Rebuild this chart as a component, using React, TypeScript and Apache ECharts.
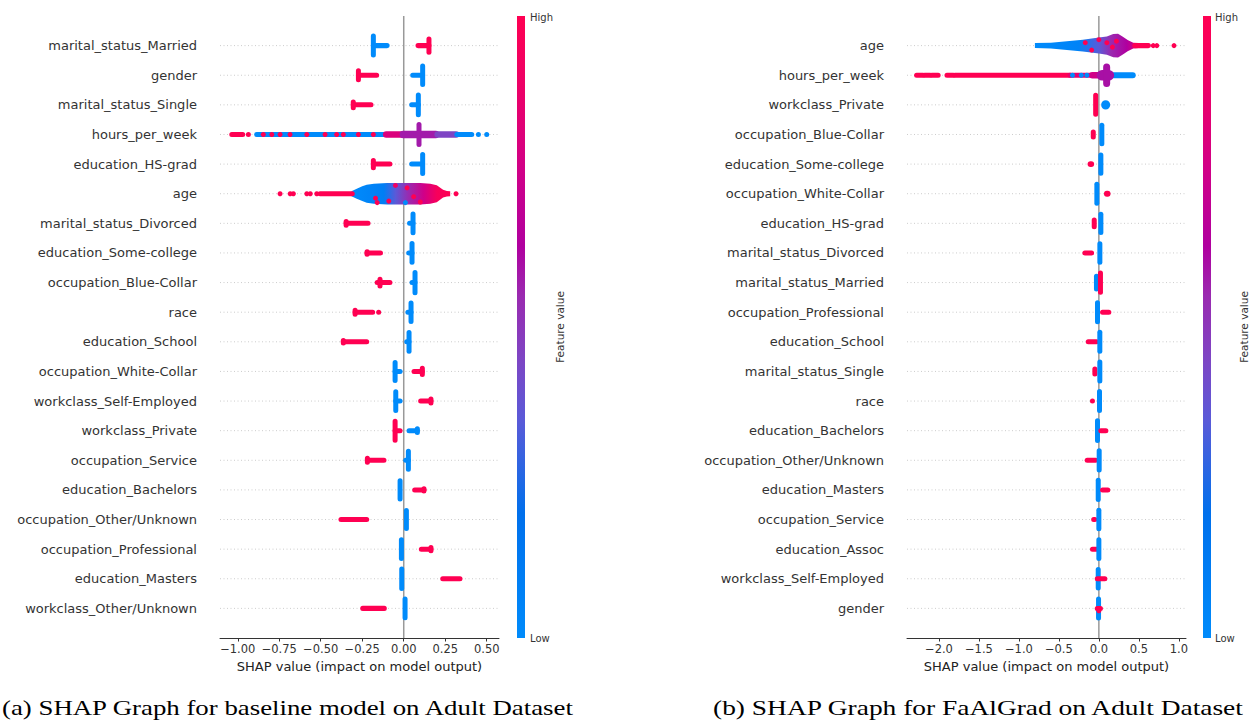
import React, { useEffect, useRef } from "react";
import * as echarts from "echarts";

// ---------- Data ----------
const leftFeatures = [
  "marital_status_Married", "gender", "marital_status_Single", "hours_per_week",
  "education_HS-grad", "age", "marital_status_Divorced", "education_Some-college",
  "occupation_Blue-Collar", "race", "education_School", "occupation_White-Collar",
  "workclass_Self-Employed", "workclass_Private", "occupation_Service", "education_Bachelors",
  "occupation_Other/Unknown", "occupation_Professional", "education_Masters", "workclass_Other/Unknown",
];
const rightFeatures = [
  "age", "hours_per_week", "workclass_Private", "occupation_Blue-Collar",
  "education_Some-college", "occupation_White-Collar", "education_HS-grad", "marital_status_Divorced",
  "marital_status_Married", "occupation_Professional", "education_School", "marital_status_Single",
  "race", "education_Bachelors", "occupation_Other/Unknown", "education_Masters",
  "occupation_Service", "education_Assoc", "workclass_Self-Employed", "gender",
];
const leftTicks = [-1, -0.75, -0.5, -0.25, 0, 0.25, 0.5];
const rightTicks = [-2, -1.5, -1, -0.5, 0, 0.5, 1];

// clusters of points: [row, shapStart, shapEnd, spread (rows), feature value 0..1]
const leftSegments = [
  [0, -0.183, -0.183, 0.81, 0], [0, -0.183, -0.1, 0.17, 0], [0, 0.086, 0.152, 0.17, 1], [0, 0.152, 0.152, 0.61, 1],
  [1, -0.273, -0.273, 0.47, 1], [1, -0.273, -0.163, 0.17, 1], [1, 0.054, 0.114, 0.17, 0], [1, 0.114, 0.114, 0.8, 0],
  [2, -0.304, -0.304, 0.37, 1], [2, -0.304, -0.197, 0.17, 1], [2, 0.048, 0.088, 0.17, 0], [2, 0.088, 0.088, 0.83, 0],
  [3, -1.036, -0.97, 0.17, 1], [3, -0.936, -0.936, 0.17, 1], [3, -0.886, -0.12, 0.15, 0],
  [3, -0.11, -0.01, 0.22, 0.8], [3, -0.01, 0.2, 0.25, 0.58], [3, 0.2, 0.32, 0.22, 0.45], [3, 0.092, 0.092, 0.84, 0.58],
  [3, 0.32, 0.41, 0.17, 0], [3, 0.45, 0.45, 0.17, 0], [3, 0.5, 0.5, 0.17, 0],
  [4, -0.183, -0.183, 0.42, 1], [4, -0.183, -0.083, 0.17, 1], [4, 0.048, 0.114, 0.17, 0], [4, 0.114, 0.114, 0.81, 0],
  [5, -0.504, -0.31, 0.17, 1],
  [6, -0.347, -0.347, 0.3, 1], [6, -0.347, -0.215, 0.17, 1], [6, 0.035, 0.056, 0.17, 0], [6, 0.056, 0.056, 0.8, 0],
  [7, -0.221, -0.221, 0.25, 1], [7, -0.221, -0.14, 0.17, 1], [7, 0.03, 0.05, 0.17, 0], [7, 0.05, 0.05, 0.8, 0],
  [8, -0.143, -0.143, 0.4, 1], [8, -0.16, -0.083, 0.17, 1], [8, 0.05, 0.068, 0.17, 0], [8, 0.068, 0.068, 0.85, 0],
  [9, -0.293, -0.293, 0.3, 1], [9, -0.293, -0.187, 0.17, 1], [9, -0.151, -0.151, 0.17, 1], [9, 0.025, 0.044, 0.17, 0], [9, 0.044, 0.044, 0.79, 0],
  [10, -0.364, -0.364, 0.25, 1], [10, -0.364, -0.223, 0.17, 1], [10, 0.018, 0.032, 0.17, 0], [10, 0.032, 0.032, 0.8, 0],
  [11, -0.052, -0.052, 0.78, 0], [11, -0.052, -0.022, 0.17, 0], [11, 0.062, 0.112, 0.17, 1], [11, 0.112, 0.112, 0.38, 1],
  [12, -0.048, -0.048, 0.8, 0], [12, -0.048, -0.022, 0.17, 0], [12, 0.102, 0.164, 0.17, 1], [12, 0.164, 0.164, 0.3, 1],
  [13, -0.052, -0.052, 0.81, 1], [13, -0.052, -0.022, 0.17, 1], [13, 0.032, 0.082, 0.17, 0], [13, 0.082, 0.082, 0.3, 0],
  [14, -0.219, -0.219, 0.3, 1], [14, -0.219, -0.119, 0.17, 1], [14, 0.012, 0.028, 0.17, 0], [14, 0.028, 0.028, 0.78, 0],
  [15, -0.022, -0.022, 0.78, 0], [15, 0.066, 0.122, 0.17, 1], [15, 0.122, 0.122, 0.25, 1],
  [16, -0.378, -0.223, 0.17, 1], [16, 0.016, 0.016, 0.78, 0],
  [17, -0.014, -0.014, 0.8, 0], [17, 0.106, 0.164, 0.17, 1], [17, 0.164, 0.164, 0.28, 1],
  [18, -0.012, -0.012, 0.82, 0], [18, 0.235, 0.339, 0.17, 1],
  [19, -0.247, -0.117, 0.17, 1], [19, 0.008, 0.008, 0.8, 0],
];
// single points: [row, shap, offset (rows), feature value]
const leftDots = [
  [3, -0.846, 0, 1], [3, -0.795, 0, 1], [3, -0.745, 0, 1], [3, -0.685, 0, 1], [3, -0.584, 0, 1],
  [3, -0.474, 0, 1], [3, -0.404, 0, 1], [3, -0.364, 0, 1], [3, -0.273, 0, 1], [3, -0.183, 0, 1],
  [5, -0.745, 0, 1], [5, -0.684, 0, 1], [5, -0.665, 0, 1], [5, -0.584, 0, 1], [5, -0.563, 0, 1], [5, -0.524, 0, 1], [5, 0.315, 0, 1],
  [5, -0.17, 0.15, 1], [5, -0.16, 0.3, 1], [5, -0.09, 0.25, 1], [5, 0.02, -0.2, 1], [5, 0.01, 0.3, 0],
  [5, 0.1, 0.28, 1], [5, -0.05, -0.28, 0.9], [5, 0.06, 0.1, 1],
];
// dense swarm outline for age: [shap, spread (rows)]
const leftAgeProfile = [
  [-0.315, 0.12], [-0.283, 0.34], [-0.25, 0.5], [-0.223, 0.61], [-0.18, 0.68], [-0.1, 0.72], [0.0, 0.73],
  [0.1, 0.72], [0.16, 0.68], [0.199, 0.57], [0.237, 0.26], [0.26, 0.18], [0.28, 0.12],
];
const leftAgeColors = [[-0.315, 0], [-0.12, 0.1], [-0.05, 0.35], [0.03, 0.55], [0.12, 0.75], [0.2, 0.95], [0.28, 1]];

const rightSegments = [
  [0, 0.45, 0.62, 0.17, 1],
  [1, -2.28, -2.2, 0.17, 1], [1, -2.18, -2.11, 0.17, 1], [1, -2.09, -2.01, 0.17, 1], [1, -1.9, -1.82, 0.17, 1],
  [1, -1.8, -0.36, 0.17, 1], [1, -0.36, -0.09, 0.17, 0.85], [1, -0.09, 0.0, 0.22, 0.75],
  [1, 0.16, 0.43, 0.2, 0], [1, 0.004, 0.16, 0.36, 0.6], [1, 0.085, 0.11, 0.79, 0.6],
  [2, -0.04, -0.04, 0.81, 1], [2, 0.06, 0.11, 0.31, 0],
  [3, -0.07, -0.07, 0.34, 1], [3, 0.037, 0.037, 0.79, 0],
  [4, -0.11, -0.09, 0.2, 1], [4, 0.025, 0.025, 0.79, 0],
  [5, -0.025, -0.025, 0.81, 0], [5, 0.095, 0.115, 0.2, 1],
  [6, -0.058, -0.058, 0.4, 1], [6, 0.025, 0.025, 0.79, 0],
  [7, -0.175, -0.091, 0.17, 1], [7, 0.0125, 0.0125, 0.79, 0],
  [8, -0.03, -0.03, 0.6, 0], [8, 0.02, 0.02, 0.82, 1],
  [9, -0.017, -0.017, 0.81, 0], [9, 0.046, 0.125, 0.17, 1],
  [10, -0.133, -0.03, 0.15, 1], [10, 0.012, 0.012, 0.81, 0],
  [11, -0.05, -0.05, 0.34, 1], [11, 0.012, 0.012, 0.81, 0],
  [12, -0.08, -0.08, 0.17, 1], [12, 0.008, 0.008, 0.81, 0],
  [13, -0.017, -0.017, 0.83, 0], [13, 0.025, 0.088, 0.17, 1],
  [14, -0.146, -0.04, 0.17, 1], [14, 0.004, 0.004, 0.82, 0],
  [15, -0.008, -0.008, 0.82, 0], [15, 0.046, 0.112, 0.17, 1],
  [16, -0.065, -0.05, 0.17, 1], [16, 0.0, 0.0, 0.8, 0],
  [17, -0.08, -0.03, 0.17, 1], [17, 0.0, 0.0, 0.8, 0],
  [18, -0.008, -0.008, 0.79, 0], [18, -0.02, 0.075, 0.15, 1],
  [19, -0.004, -0.004, 0.81, 0], [19, -0.02, 0.02, 0.1, 1],
];
const rightDots = [
  [0, 0.68, 0, 1], [0, 0.725, 0, 1], [0, 0.94, 0, 1],
  [0, -0.17, -0.1, 1], [0, -0.09, 0.15, 1], [0, 0.0, -0.2, 1], [0, 0.1, -0.1, 1], [0, 0.17, 0.05, 1], [0, 0.22, -0.15, 1],
  [1, -0.33, 0, 0], [1, -0.22, 0, 0], [1, -0.15, 0, 0],
  [19, 0.0, 0.08, 1],
];
const rightAgeProfile = [
  [-0.8, 0.1], [-0.6, 0.2], [-0.4, 0.29], [-0.2, 0.4], [0.0, 0.54], [0.1, 0.62], [0.18, 0.78],
  [0.24, 0.8], [0.3, 0.6], [0.36, 0.38], [0.43, 0.2], [0.5, 0.15],
];
const rightAgeColors = [[-0.8, 0], [-0.25, 0.06], [0.0, 0.35], [0.15, 0.55], [0.35, 0.63], [0.45, 0.78], [0.5, 1]];

const colorStops: [number, string][] = [
  [0, "#008bfb"], [0.2, "#0070ec"], [0.35, "#5a5ad8"], [0.45, "#7e45c4"], [0.55, "#9a2ab0"],
  [0.63, "#b0009f"], [0.75, "#d00088"], [0.88, "#ec0068"], [1, "#ff0052"],
];

const captionA = "(a) SHAP Graph for baseline model on Adult Dataset";
const captionB = "(b) SHAP Graph for FaAlGrad on Adult Dataset";

// ---------- helpers ----------
function hexToRgb(h: string) {
  const n = parseInt(h.slice(1), 16);
  return [(n >> 16) & 255, (n >> 8) & 255, n & 255];
}
function colorAt(v: number): string {
  const t = Math.max(0, Math.min(1, v));
  for (let i = 1; i < colorStops.length; i++) {
    if (t <= colorStops[i][0]) {
      const [t0, c0] = colorStops[i - 1];
      const [t1, c1] = colorStops[i];
      const f = (t - t0) / (t1 - t0 || 1);
      const a = hexToRgb(c0), b = hexToRgb(c1);
      const c = a.map((x, k) => Math.round(x + (b[k] - x) * f));
      return `rgb(${c[0]},${c[1]},${c[2]})`;
    }
  }
  return colorStops[colorStops.length - 1][1];
}
const minus = (s: string) => s.replace("-", "\u2212");
const D = 5; // point diameter in px
const FONT = "DejaVu Sans";

function rowPx(api: any) {
  return Math.abs(api.coord([0, 1])[1] - api.coord([0, 0])[1]);
}

function panelSeries(
  gi: number, features: string[], segments: number[][], dots: number[][],
  swarmRow: number, profile: number[][], colors: number[][],
) {
  return [
    {
      type: "custom", xAxisIndex: gi, yAxisIndex: gi, silent: true, z: 1,
      data: features.map((_, i) => [i, 0]), encode: { y: 0, x: 1 },
      renderItem: (params: any, api: any) => {
        const cs = params.coordSys;
        const y = api.coord([0, api.value(0)])[1];
        return {
          type: "line", shape: { x1: cs.x, y1: y, x2: cs.x + cs.width, y2: y },
          style: { stroke: "#cccccc", lineWidth: 1, lineDash: [1, 2.5] },
        };
      },
    },
    {
      type: "custom", xAxisIndex: gi, yAxisIndex: gi, silent: true, z: 2,
      data: [[0, 0]], encode: { x: 0, y: 1 },
      renderItem: (params: any, api: any) => {
        const cs = params.coordSys;
        const x = api.coord([0, 0])[0];
        return {
          type: "line", shape: { x1: x, y1: cs.y, x2: x, y2: cs.y + cs.height },
          style: { stroke: "#999999", lineWidth: 1.5 },
        };
      },
    },
    {
      type: "custom", xAxisIndex: gi, yAxisIndex: gi, silent: true, z: 3,
      data: [[swarmRow, profile[0][0]]], encode: { y: 0, x: 1 },
      renderItem: (params: any, api: any) => {
        const row = api.value(0);
        const rp = rowPx(api);
        const top = profile.map(([x, s]) => {
          const p = api.coord([x, row]);
          return [p[0], p[1] - Math.max((s * rp) / 2, D / 2)];
        });
        const bot = profile.slice().reverse().map(([x, s]) => {
          const p = api.coord([x, row]);
          return [p[0], p[1] + Math.max((s * rp) / 2, D / 2)];
        });
        const x0 = api.coord([colors[0][0], row])[0];
        const x1 = api.coord([colors[colors.length - 1][0], row])[0];
        const grad = new echarts.graphic.LinearGradient(
          x0, 0, x1, 0,
          colors.map(([x, fv]) => ({ offset: (api.coord([x, row])[0] - x0) / (x1 - x0), color: colorAt(fv) })),
          true,
        );
        return { type: "polygon", shape: { points: top.concat(bot) }, style: { fill: grad } };
      },
    },
    {
      type: "custom", xAxisIndex: gi, yAxisIndex: gi, silent: true, z: 4,
      data: segments, encode: { y: 0, x: [1, 2] },
      renderItem: (params: any, api: any) => {
        const row = api.value(0);
        const p1 = api.coord([api.value(1), row]);
        const p2 = api.coord([api.value(2), row]);
        const rp = rowPx(api);
        const h = Math.max(api.value(3) * rp, D);
        const w = p2[0] - p1[0] + D;
        return {
          type: "rect",
          shape: { x: p1[0] - D / 2, y: p1[1] - h / 2, width: w, height: h, r: Math.min(w, h) / 2 },
          style: { fill: colorAt(api.value(4)) },
        };
      },
    },
    {
      type: "custom", xAxisIndex: gi, yAxisIndex: gi, silent: true, z: 5,
      data: dots, encode: { y: 0, x: 1 },
      renderItem: (params: any, api: any) => {
        const p = api.coord([api.value(1), api.value(0)]);
        const rp = rowPx(api);
        return {
          type: "circle",
          shape: { cx: p[0], cy: p[1] + api.value(2) * rp, r: D / 2 },
          style: { fill: colorAt(api.value(3)) },
        };
      },
    },
  ];
}

function xAxisCfg(gi: number, min: number, max: number, ticks: number[], dec: number) {
  return {
    type: "value", gridIndex: gi, min, max,
    splitLine: { show: false },
    axisLine: { show: true, onZero: false, lineStyle: { color: "#333333", width: 1 } },
    axisTick: { show: true, customValues: ticks, length: 3.5, lineStyle: { color: "#333333" } },
    axisLabel: {
      customValues: ticks, formatter: (v: number) => minus(v.toFixed(dec)),
      color: "#333333", fontSize: 11.5, fontFamily: FONT, margin: 5,
    },
    name: "SHAP value (impact on model output)", nameLocation: "middle", nameGap: 20,
    nameTextStyle: { color: "#222222", fontSize: 13, fontFamily: FONT },
  };
}
function yAxisCfg(gi: number, features: string[]) {
  return {
    type: "value", gridIndex: gi, min: -1, max: 20, inverse: true,
    axisLine: { show: false }, axisTick: { show: false }, splitLine: { show: false },
    axisLabel: {
      customValues: features.map((_, i) => i),
      formatter: (v: number) => features[Math.round(v)] ?? "",
      color: "#333333", fontSize: 13, fontFamily: FONT, margin: 23,
    },
  };
}

function colorbar(x: number, labelX: number, titleX: number) {
  const grad = new echarts.graphic.LinearGradient(0, 1, 0, 0, colorStops.map(([o, c]) => ({ offset: o, color: c })));
  return [
    { type: "rect", shape: { x, y: 16, width: 8, height: 622 }, style: { fill: grad } },
    { type: "text", x: labelX, y: 17, style: { text: "High", fontSize: 10, fontFamily: FONT, fill: "#333333", align: "left", verticalAlign: "middle" } },
    { type: "text", x: labelX, y: 638, style: { text: "Low", fontSize: 10, fontFamily: FONT, fill: "#333333", align: "left", verticalAlign: "middle" } },
    { type: "text", x: titleX, y: 327, rotation: Math.PI / 2, style: { text: "Feature value", fontSize: 10.5, fontFamily: FONT, fill: "#333333", align: "center", verticalAlign: "middle" } },
  ];
}

export default function App() {
  const ref = useRef<HTMLDivElement>(null);
  useEffect(() => {
    if (!ref.current) return;
    const chart = echarts.init(ref.current, null, { renderer: "svg" });
    chart.setOption({
      animation: false,
      backgroundColor: "#ffffff",
      grid: [
        { left: 220, top: 16, width: 279, height: 622 },
        { left: 907, top: 16, width: 279, height: 622 },
      ],
      xAxis: [xAxisCfg(0, -1.107, 0.574, leftTicks, 2), xAxisCfg(1, -2.4, 1.09, rightTicks, 1)],
      yAxis: [yAxisCfg(0, leftFeatures), yAxisCfg(1, rightFeatures)],
      series: [
        ...panelSeries(0, leftFeatures, leftSegments, leftDots, 5, leftAgeProfile, leftAgeColors),
        ...panelSeries(1, rightFeatures, rightSegments, rightDots, 0, rightAgeProfile, rightAgeColors),
      ],
      graphic: [
        ...colorbar(517, 530, 560),
        ...colorbar(1203, 1215, 1244),
        {
          type: "text", x: 2, y: 707, scaleX: 1.22,
          style: { text: captionA, fontSize: 22, lineHeight: 22, fontFamily: "Liberation Serif", fill: "#000000", align: "left", verticalAlign: "middle" },
        },
        {
          type: "text", x: 713, y: 707, scaleX: 1.247,
          style: { text: captionB, fontSize: 22, lineHeight: 22, fontFamily: "Liberation Serif", fill: "#000000", align: "left", verticalAlign: "middle" },
        },
      ],
    });
    return () => chart.dispose();
  }, []);
  return (
    <div
      ref={ref}
      style={{ position: "fixed", left: 0, top: 0, width: 1252, height: 721, background: "#ffffff" }}
    />
  );
}
